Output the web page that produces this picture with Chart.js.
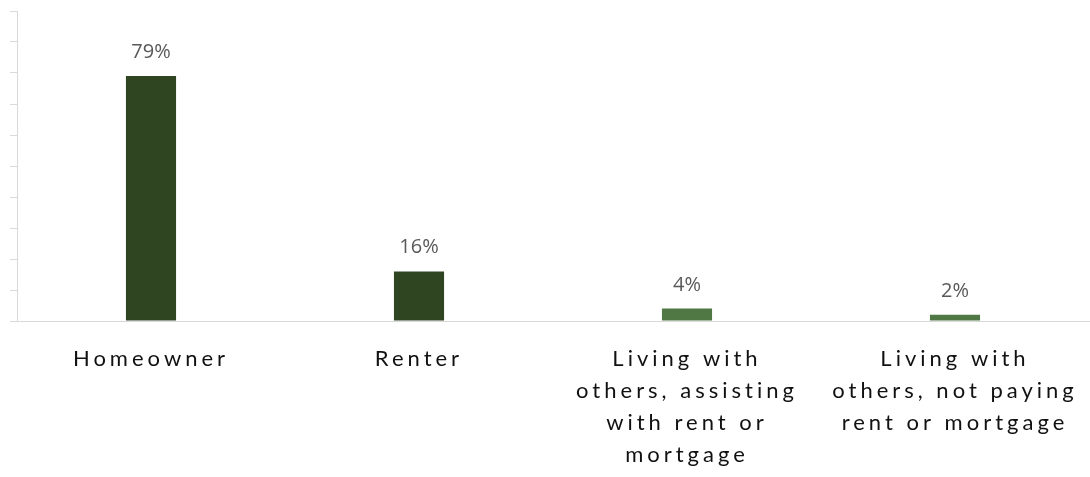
<!DOCTYPE html>
<html>
<head>
<meta charset="utf-8">
<script src="https://cdn.jsdelivr.net/npm/chart.js@4"></script>
<style>
  html, body { margin: 0; padding: 0; background: #fff; }
  #wrap { width: 1090px; height: 477px; }
</style>
</head>
<body>
<div id="wrap"><canvas id="housingChart" width="1090" height="477"></canvas></div>
<script>
// categorias e valores (%)
const categories = [
    ['Homeowner'],
    ['Renter'],
    ['Living with', 'others, assisting', 'with rent or', 'mortgage'],
    ['Living with', 'others, not paying', 'rent or mortgage']
];
const percentValues = [79, 16, 4, 2];
const barColors = ['#2f4421', '#2f4421', '#507844', '#507844'];
const yTicks = [0, 10, 20, 30, 40, 50, 60, 70, 80, 90, 100];

// espaçamento das letras nos rótulos do eixo x + rótulos de valor
const labelPlugin = {
    id: 'labelPlugin',
    beforeDraw(chart) {
        chart.ctx.letterSpacing = '4px';
    },
    beforeDatasetsDraw(chart) {
        chart.ctx.letterSpacing = '0px';
    },
    afterDatasetsDraw(chart) {
        const ctx = chart.ctx;
        const meta = chart.getDatasetMeta(0);
        ctx.save();
        ctx.letterSpacing = '0px';
        ctx.font = '20px "Open Sans"';
        ctx.fillStyle = '#595959';
        ctx.textAlign = 'center';
        ctx.textBaseline = 'alphabetic';
        meta.data.forEach(function(bar, i) {
            ctx.fillText(percentValues[i] + '%', bar.x, bar.y - 18);
        });
        ctx.restore();
    }
};

const ctx = document.getElementById('housingChart').getContext('2d');
new Chart(ctx, {
    type: 'bar',
    data: {
        labels: categories,
        datasets: [{
            data: percentValues,
            backgroundColor: barColors,
            barPercentage: 0.187,
            categoryPercentage: 1
        }]
    },
    options: {
        responsive: false,
        animation: false,
        layout: { padding: { top: 11, left: 10, right: 1, bottom: 10 } },
        plugins: {
            legend: { display: false },
            tooltip: { enabled: false }
        },
        scales: {
            x: {
                afterFit(scale) {
                    scale.height = 146;
                },
                grid: { display: false },
                border: { color: '#d9d9d9', width: 1 },
                ticks: {
                    autoSkip: false,
                    maxRotation: 0,
                    minRotation: 0,
                    padding: 14,
                    color: '#111111',
                    font: { family: 'Lato', size: 22, lineHeight: 1.45 }
                }
            },
            y: {
                min: 0,
                max: 100,
                afterBuildTicks(scale) {
                    scale.ticks = yTicks.map(v => ({ value: v }));
                },
                grid: {
                    drawOnChartArea: false,
                    color: '#d9d9d9',
                    tickLength: 7
                },
                border: { color: '#d9d9d9', width: 1 },
                ticks: { display: false }
            }
        }
    },
    plugins: [labelPlugin]
});
</script>
</body>
</html>
